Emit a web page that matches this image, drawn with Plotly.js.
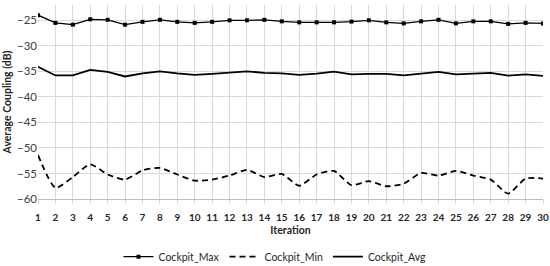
<!DOCTYPE html>
<html><head><meta charset="utf-8">
<script src="https://cdn.plot.ly/plotly-3.0.1.min.js"></script>
<style>html,body{margin:0;padding:0;background:#fff}#c{width:550px;height:266px}</style>
</head><body><div id="c"></div>
<script>
const iterations = Array.from({length:30},(_,i)=>i+1);
const cockpitMax = [-24.0,-25.5,-25.85,-24.8,-24.9,-25.85,-25.3,-24.9,-25.3,-25.5,-25.3,-25.0,-25.0,-24.9,-25.2,-25.4,-25.4,-25.4,-25.25,-25.0,-25.4,-25.6,-25.2,-24.9,-25.6,-25.2,-25.2,-25.7,-25.5,-25.6];
const cockpitMin = [-51.4,-57.8,-55.7,-53.2,-55.2,-56.2,-54.4,-53.9,-55.2,-56.4,-56.2,-55.4,-54.3,-55.7,-55.1,-57.4,-55.2,-54.5,-57.3,-56.5,-57.5,-57.0,-54.9,-55.4,-54.5,-55.4,-56.2,-58.95,-56.0,-56.0];
const cockpitAvg = [-34.1,-35.8,-35.8,-34.7,-35.1,-36.0,-35.4,-35.0,-35.4,-35.7,-35.5,-35.3,-35.0,-35.3,-35.4,-35.7,-35.45,-35.05,-35.6,-35.5,-35.5,-35.8,-35.4,-35.1,-35.6,-35.5,-35.3,-35.85,-35.6,-35.9];
const seriesNames = ['Cockpit_Max','Cockpit_Min','Cockpit_Avg'];
const yTicks = [-25,-30,-35,-40,-45,-50,-55,-60];

const traces = [
 {x:iterations,y:cockpitMax,name:seriesNames[0],mode:'lines+markers',line:{color:'#000',width:1.3},marker:{symbol:'square',size:4,color:'#000'}},
 {x:iterations,y:cockpitMin,name:seriesNames[1],mode:'lines',line:{color:'#000',width:1.8,dash:'6px,4px',shape:'spline',smoothing:0.6}},
 {x:iterations,y:cockpitAvg,name:seriesNames[2],mode:'lines',line:{color:'#000',width:1.8}}
];
const font = {family:'Lato, "Open Sans", sans-serif',color:'#404040'};
const layout = {
 width:550,height:266,margin:{l:38,r:7,t:5,b:67,autoexpand:false},
 paper_bgcolor:'#fff',plot_bgcolor:'#fff',font:font,showlegend:true,
 xaxis:{range:[1,30],tickmode:'array',tickvals:iterations,ticktext:iterations.map(String),
   showgrid:true,gridcolor:'#d9d9d9',gridwidth:1,zeroline:false,showline:true,linecolor:'#bfbfbf',
   ticks:'outside',ticklen:4,tickcolor:'#d9d9d9',ticklabelstandoff:5,automargin:false,
   tickfont:{size:10,color:'#262626',family:'Lato, sans-serif',weight:'bold'},
   title:{text:'Iteration',font:{size:10.5,color:'#262626',weight:'bold'},standoff:4}},
 yaxis:{range:[-60,-22],tickmode:'array',tickvals:yTicks,ticktext:yTicks.map(v=>'\u2212'+Math.abs(v)),
   showgrid:true,gridcolor:'#d9d9d9',gridwidth:1,zeroline:false,showline:false,automargin:false,
   ticks:'',tickfont:{size:11.5,color:'#404040'},
   title:{text:'Average Coupling (dB)',font:{size:10.5,color:'#262626',weight:'bold'},standoff:3}},
 legend:{orientation:'h',x:0.5,xref:'container',xanchor:'center',yref:'container',y:0.035,yanchor:'middle',
   font:{size:10.5,color:'#262626'},itemwidth:30,tracegroupgap:0}
};
Plotly.newPlot('c',traces,layout,{displayModeBar:false,staticPlot:true});
</script></body></html>
